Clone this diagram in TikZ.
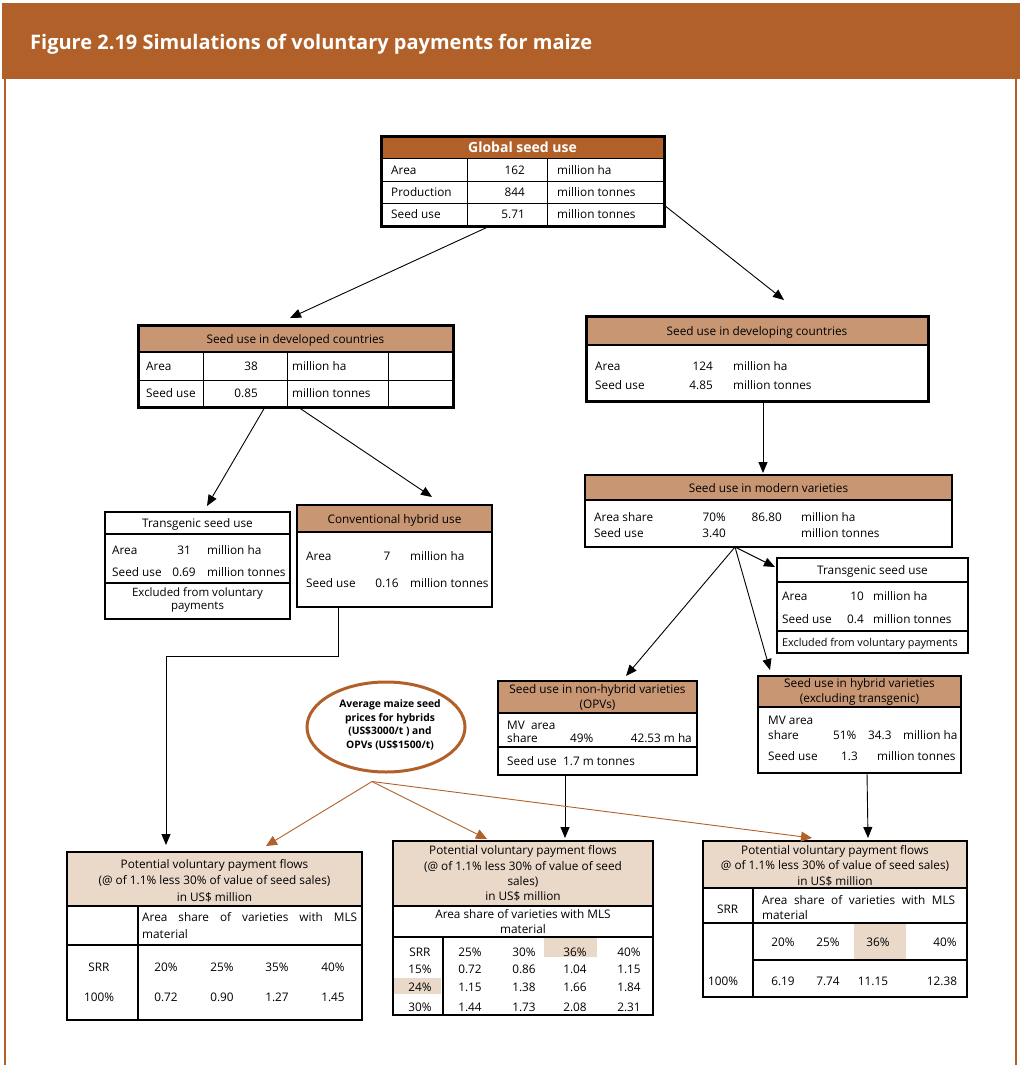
\documentclass[tikz,border=0pt]{standalone}
\usepackage{fontspec}
\setmainfont{Open Sans}
\usetikzlibrary{arrows.meta,shapes.geometric}
\definecolor{hdr}{HTML}{B06028}
\definecolor{tanf}{HTML}{C89673}
\definecolor{lite}{HTML}{EAD9C9}
\newcommand\bodyfs{\fontsize{11.8}{14}\selectfont}
\begin{document}
\begin{tikzpicture}[x=1pt,y=-1pt,
  tb/.style={draw, inner sep=0pt, outer sep=0pt, line width=2.2pt, anchor=north west},
  thickb/.style={tb, line width=3pt},
  txl/.style={inner sep=0pt, anchor=base west, font=\bodyfs},
  txc/.style={txl, anchor=base},
  txr/.style={txl, anchor=base east},
  mlc/.style={inner sep=0pt, align=center, font=\bodyfs},
  grid/.style={line width=1pt},
  sep/.style={line width=1.6pt},
  arr/.style={line width=0.9pt, -{Triangle[length=11pt,width=9pt]}},
  barr/.style={hdr, line width=0.9pt, -{Triangle[length=11pt,width=10pt]}}]
\useasboundingbox (0,0) rectangle (1020,1065);
% frame
\fill[hdr] (2,3) rectangle (1020,79);
\draw[hdr, line width=2pt] (5,79) -- (5,1065);
\draw[hdr, line width=2pt] (1016,79) -- (1016,1065);
\node[txl, font=\fontsize{20}{24}\selectfont\bfseries, text=white] (title) at (30,49) {Figure 2.19 Simulations of voluntary payments for maize};

% Global seed use
\fill[hdr] (381,136) rectangle (664,158);
\draw[grid] (381,158) -- (664,158) (381,181) -- (664,181) (381,203) -- (664,203)
  (467,158) -- (467,226) (547,158) -- (547,226);
\node[thickb, minimum width=283pt, minimum height=90pt] (g) at (381,136) {};
\node[txc, font=\fontsize{14}{16}\selectfont\bfseries, text=white] (gh) at (522.5,152.5) {Global seed use};
\node[txl] (g11) at (391,174) {Area};
\node[txr] (g12) at (525,174) {162};
\node[txl] (g13) at (557,174) {million ha};
\node[txl] (g21) at (391,196) {Production};
\node[txr] (g22) at (525,196) {844};
\node[txl] (g23) at (557,196) {million tonnes};
\node[txl] (g31) at (391,218) {Seed use};
\node[txr] (g32) at (525,218) {5.71};
\node[txl] (g33) at (557,218) {million tonnes};

% developed
\fill[tanf] (138,325) rectangle (453,352);
\draw[sep] (138,352) -- (453,352);
\draw[grid] (138,380) -- (453,380) (203,352) -- (203,407) (287,352) -- (287,407) (388,352) -- (388,407);
\node[thickb, minimum width=315pt, minimum height=82pt] (dev) at (138,325) {};
\node[txc] (devh) at (295.5,343) {Seed use in developed countries};
\node[txl] (d11) at (146,370) {Area};
\node[txr] (d12) at (258,370) {38};
\node[txl] (d13) at (292,370) {million ha};
\node[txl] (d21) at (146,397.5) {Seed use};
\node[txr] (d22) at (258,397.5) {0.85};
\node[txl] (d23) at (292,397.5) {million tonnes};

% developing
\fill[tanf] (586,316) rectangle (928,345);
\draw[line width=2.2pt] (586,345) -- (928,345);
\node[thickb, minimum width=342pt, minimum height=85pt] (dvg) at (586,316) {};
\node[txc] (dvgh) at (757,335) {Seed use in developing countries};
\node[txl] (v11) at (595,370) {Area};
\node[txr] (v12) at (713,370) {124};
\node[txl] (v13) at (733,370) {million ha};
\node[txl] (v21) at (595,389) {Seed use};
\node[txr] (v22) at (713,389) {4.85};
\node[txl] (v23) at (733,389) {million tonnes};

% transgenic left
\draw[sep] (105,534) -- (290,534);
\draw[line width=2pt] (105,583) -- (290,583);
\node[tb, minimum width=185pt, minimum height=107pt] (tgl) at (105,512) {};
\node[txc] (tglh) at (197.5,527) {Transgenic seed use};
\node[txl] (l11) at (112,554) {Area};
\node[txc] (l12) at (184,554) {31};
\node[txl] (l13) at (207,554) {million ha};
\node[txl] (l21) at (112,576) {Seed use};
\node[txc] (l22) at (184,576) {0.69};
\node[txl] (l23) at (207,576) {million tonnes};
\node[mlc, font=\fontsize{11.5}{13}\selectfont] (l3) at (197.5,600) {Excluded from voluntary\\payments};

% conventional hybrid
\fill[tanf] (297,505) rectangle (492,532);
\draw[sep] (297,532) -- (492,532);
\node[tb, minimum width=195pt, minimum height=102pt] (conv) at (297,505) {};
\node[txc] (convh) at (394.5,523) {Conventional hybrid use};
\node[txl] (c11) at (306,560) {Area};
\node[txc] (c12) at (387,560) {7};
\node[txl] (c13) at (410,560) {million ha};
\node[txl] (c21) at (306,587) {Seed use};
\node[txc] (c22) at (387,587) {0.16};
\node[txl] (c23) at (410,587) {million tonnes};

% modern varieties
\fill[tanf] (585,475) rectangle (952,500);
\draw[sep] (585,500) -- (952,500);
\node[tb, minimum width=367pt, minimum height=72pt] (mod) at (585,475) {};
\node[txc] (modh) at (768.5,492) {Seed use in modern varieties};
\node[txl] (m11) at (594,521) {Area share};
\node[txr] (m12) at (726,521) {70\%};
\node[txr] (m13) at (782,521) {86.80};
\node[txl] (m14) at (801,521) {million ha};
\node[txl] (m21) at (594,537) {Seed use};
\node[txr] (m22) at (726,537) {3.40};
\node[txl] (m24) at (801,537) {million tonnes};

% transgenic right
\draw[sep] (777,582) -- (968,582) (777,631) -- (968,631);
\node[tb, minimum width=191pt, minimum height=95pt] (tgr) at (777,558) {};
\node[txc] (tgrh) at (872.5,574) {Transgenic seed use};
\node[txl] (r11) at (782,600) {Area};
\node[txr] (r12) at (864,600) {10};
\node[txl] (r13) at (873,600) {million ha};
\node[txl] (r21) at (782,623) {Seed use};
\node[txr] (r22) at (864,623) {0.4};
\node[txl] (r23) at (873,623) {million tonnes};
\node[txl, font=\fontsize{10.8}{13}\selectfont] (r3) at (782,646) {Excluded from voluntary payments};

% non-hybrid
\fill[tanf] (498,681) rectangle (697,713);
\draw[sep] (498,713) -- (697,713) (498,747) -- (697,747);
\node[tb, minimum width=199pt, minimum height=94pt] (nh) at (498,681) {};
\node[mlc, font=\fontsize{11.8}{15}\selectfont] (nhh) at (597.5,697.5) {Seed use in non-hybrid varieties\\(OPVs)};
\node[txl] (n11) at (507,729) {MV\ \ area};
\node[txl] (n21) at (507,742) {share};
\node[txl] (n22) at (570,742) {49\%};
\node[txr] (n23) at (692,742) {42.53 m ha};
\node[txl] (n31) at (507,765) {Seed use};
\node[txl] (n32) at (563,765) {1.7 m tonnes};

% hybrid
\fill[tanf] (758,676) rectangle (961,707);
\draw[sep] (758,707) -- (961,707);
\node[tb, minimum width=203pt, minimum height=97pt] (hy) at (758,676) {};
\node[mlc, font=\fontsize{11.8}{15}\selectfont] (hyh) at (859.5,692) {Seed use in hybrid varieties\\(excluding transgenic)};
\node[txl] (h11) at (768,724) {MV area};
\node[txl] (h21) at (768,739) {share};
\node[txl] (h22) at (833,739) {51\%};
\node[txl] (h23) at (868,739) {34.3};
\node[txl] (h24) at (903,739) {million ha};
\node[txl] (h31) at (768,760) {Seed use};
\node[txr] (h32) at (858,760) {1.3};
\node[txl] (h33) at (877,760) {million tonnes};

% ellipse
\node[ellipse, draw=hdr, line width=3pt, minimum width=158pt, minimum height=90pt, inner sep=0pt] (ell) at (386,727) {};
\node[inner sep=0pt, align=center, font=\fontsize{10.3}{13.5}\selectfont\bfseries] (elltxt) at (390,725)
  {Average maize seed\\prices for hybrids\\(US\$3000/t ) and\\OPVs (US\$1500/t)};

% payment left
\fill[lite] (67,852) rectangle (362,906);
\draw[sep] (67,906) -- (362,906) (67,945) -- (362,945) (138,906) -- (138,1020);
\node[tb, minimum width=295pt, minimum height=168pt] (pl) at (67,852) {};
\node[mlc, font=\fontsize{11.8}{16.5}\selectfont] (plh) at (214.5,880.5) {Potential voluntary payment flows\\(@ of 1.1\% less 30\% of value of seed sales)\\in US\$ million};
\node[txl] (pla) at (142,921) {\makebox[215pt][s]{Area share of varieties with MLS}};
\node[txl] (plb) at (142,938) {material};
\node[txc] (pl11) at (99,971) {SRR};
\node[txc] (pl12) at (166,971) {20\%};
\node[txc] (pl13) at (222,971) {25\%};
\node[txc] (pl14) at (277,971) {35\%};
\node[txc] (pl15) at (333,971) {40\%};
\node[txc] (pl21) at (99,1001) {100\%};
\node[txc] (pl22) at (166,1001) {0.72};
\node[txc] (pl23) at (222,1001) {0.90};
\node[txc] (pl24) at (277,1001) {1.27};
\node[txc] (pl25) at (333,1001) {1.45};

% payment middle
\fill[lite] (393,841) rectangle (653,906);
\fill[lite] (544,937) rectangle (597,957);
\fill[lite] (394,978) rectangle (441,994);
\draw[sep] (393,906) -- (653,906) (393,937) -- (653,937) (443,937) -- (443,1015);
\node[tb, minimum width=260pt, minimum height=174pt] (pm) at (393,841) {};
\node[mlc, font=\fontsize{11.8}{15.3}\selectfont] (pmh) at (523,873.5) {Potential voluntary payment flows\\(@ of 1.1\% less 30\% of value of seed\\sales)\\in US\$ million};
\node[mlc, font=\fontsize{11.8}{15}\selectfont] (pma) at (523,922) {Area share of varieties with MLS\\material};
\node[txc] (pm11) at (420,956) {SRR};
\node[txc] (pm12) at (470,956) {25\%};
\node[txc] (pm13) at (524,956) {30\%};
\node[txc] (pm14) at (575,956) {36\%};
\node[txc] (pm15) at (629,956) {40\%};
\node[txc] (pm21) at (420,973) {15\%};
\node[txc] (pm22) at (470,973) {0.72};
\node[txc] (pm23) at (524,973) {0.86};
\node[txc] (pm24) at (575,973) {1.04};
\node[txc] (pm25) at (629,973) {1.15};
\node[txc] (pm31) at (420,991) {24\%};
\node[txc] (pm32) at (470,991) {1.15};
\node[txc] (pm33) at (524,991) {1.38};
\node[txc] (pm34) at (575,991) {1.66};
\node[txc] (pm35) at (629,991) {1.84};
\node[txc] (pm41) at (420,1011) {30\%};
\node[txc] (pm42) at (470,1011) {1.44};
\node[txc] (pm43) at (524,1011) {1.73};
\node[txc] (pm44) at (575,1011) {2.08};
\node[txc] (pm45) at (629,1011) {2.31};

% payment right
\fill[lite] (703,841) rectangle (967,888);
\fill[lite] (854,923) rectangle (906,960);
\draw[sep] (703,888) -- (967,888) (703,923) -- (967,923) (753,888) -- (753,997) (753,960) -- (967,960);
\node[tb, minimum width=264pt, minimum height=156pt] (pr) at (703,841) {};
\node[mlc, font=\fontsize{11.8}{15.5}\selectfont] (prh) at (835,865.5) {Potential voluntary payment flows\\@ of 1.1\% less 30\% of value of seed sales)\\in US\$ million};
\node[txl] (prs) at (717,913) {SRR};
\node[txl] (pra) at (762,904) {\makebox[193pt][s]{Area share of varieties with MLS}};
\node[txl] (prb) at (762,919) {material};
\node[txc] (pr12) at (783,946) {20\%};
\node[txc] (pr13) at (828,946) {25\%};
\node[txc] (pr14) at (878,946) {36\%};
\node[txc] (pr15) at (945,946) {40\%};
\node[txc] (pr21) at (723,985) {100\%};
\node[txc] (pr22) at (783,985) {6.19};
\node[txc] (pr23) at (828,985) {7.74};
\node[txc] (pr24) at (873,985) {11.15};
\node[txc] (pr25) at (942,985) {12.38};

% black connectors
\draw[arr] ([xshift=-32.5pt]g.south) -- ([xshift=-5.5pt,yshift=7pt]dev.north);
\draw[arr] ([yshift=-24pt]g.east) -- ([xshift=27pt,yshift=16pt]dvg.north);
\draw[arr] ([xshift=-30.5pt]dev.south) -- ([xshift=9.5pt,yshift=6pt]tgl.north);
\draw[arr] ([xshift=2.5pt]dev.south) -- ([xshift=37.5pt,yshift=8pt]conv.north);
\draw[arr] ([xshift=6pt]dvg.south) -- ([xshift=-5.5pt,yshift=2pt]mod.north);
\draw[arr] ([xshift=-33.5pt]mod.south) -- ([xshift=-2pt,yshift=-9pt]tgr.north west);
\draw[arr] ([xshift=-33.5pt]mod.south) -- ([xshift=28.5pt,yshift=5pt]nh.north);
\draw[arr] ([xshift=-33.5pt]mod.south) -- ([xshift=-89.5pt,yshift=6pt]hy.north);
\draw[arr] ([xshift=-56.5pt]conv.south) -- ++(0,49) -| ([xshift=-48.5pt,yshift=7pt]pl.north);
\draw[arr] ([xshift=-32.5pt]nh.south) -- ([xshift=42pt,yshift=3pt]pm.north);
\draw[arr] ([xshift=7.5pt]hy.south) -- ([xshift=33pt,yshift=3pt]pr.north);
% brown connectors
\draw[barr] ([xshift=-14pt,yshift=-8pt]ell.south) -- ([xshift=51.5pt,yshift=6pt]pl.north);
\draw[barr] ([xshift=-14pt,yshift=-8pt]ell.south) -- ([xshift=-36pt,yshift=2pt]pm.north);
\draw[barr] ([xshift=-14pt,yshift=-8pt]ell.south) -- ([xshift=-23pt,yshift=3pt]pr.north);
\end{tikzpicture}
\end{document}
